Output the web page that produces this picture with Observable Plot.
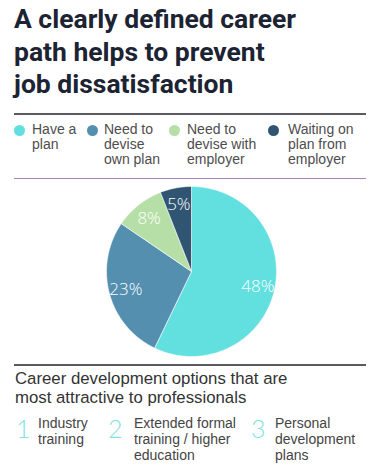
<!DOCTYPE html>
<html><head><meta charset="utf-8">
<script src="https://cdn.jsdelivr.net/npm/d3@7"></script>
<script src="https://cdn.jsdelivr.net/npm/@observablehq/plot@0.6"></script>
<style>
body{margin:0;background:#fff;width:377px;height:470px;position:relative;overflow:hidden;font-family:"Liberation Sans",Arial,sans-serif;}
.abs{position:absolute;}
#title{left:14px;top:4px;font-family:Roboto,sans-serif;font-weight:700;font-size:25px;line-height:32.5px;color:#1c2333;white-space:nowrap;transform-origin:0 0;}
.rule{position:absolute;left:14px;width:352px;}
.leg{position:absolute;top:122px;font-size:14px;line-height:15px;color:#4d4d4d;}
.dot{position:absolute;width:11px;height:11px;border-radius:50%;top:125px;}
#sub{left:15px;top:370px;font-size:16.8px;line-height:18.5px;color:#333;white-space:nowrap;}
.num{position:absolute;top:413px;font-family:Lato,Roboto,sans-serif;font-weight:300;font-size:25px;color:#7fe3e2;}
.opt{position:absolute;top:415px;font-size:14px;line-height:16px;color:#444;white-space:nowrap;}
#chart{position:absolute;left:0;top:180px;}
</style></head>
<body>
<div id="title" class="abs"></div>
<div class="rule" style="top:113px;height:2px;background:#5b5b5f"></div>
<div id="legend"></div>
<div class="rule" style="top:178px;height:1px;background:#a884b8"></div>
<div id="chart"></div>
<div class="rule" style="top:364px;height:2px;background:#5b5b5f"></div>
<div id="sub" class="abs"></div>
<div id="opts"></div>
<script>
const titleLines = ["A clearly defined career", "path helps to prevent", "job dissatisfaction"];
const categories = ["Have a plan", "Need to devise own plan", "Need to devise with employer", "Waiting on plan from employer"];
const legendLines = [["Have a","plan"],["Need to","devise","own plan"],["Need to","devise with","employer"],["Waiting on","plan from","employer"]];
const values = [48, 23, 8, 5];
const colors = ["#62e0df", "#548fb0", "#b6dfa7", "#2f5572"];
const subtitleLines = ["Career development options that are", "most attractive to professionals"];
const optionNumbers = ["1", "2", "3"];
const optionLines = [["Industry","training"],["Extended formal","training / higher","education"],["Personal","development","plans"]];

document.getElementById("title").innerHTML = titleLines.join("<br>");
document.getElementById("sub").innerHTML = subtitleLines.join("<br>");

const legX = [[14,32],[87,104],[169,187],[268,288]];
const legend = document.getElementById("legend");
categories.forEach((c,i)=>{
  const d = document.createElement("div"); d.className="dot"; d.style.left=legX[i][0]+"px"; d.style.background=colors[i]; legend.appendChild(d);
  const t = document.createElement("div"); t.className="leg"; t.style.left=legX[i][1]+"px"; t.innerHTML=legendLines[i].join("<br>"); legend.appendChild(t);
});

const optX = [[16,38],[108,134],[251,275]];
const opts = document.getElementById("opts");
optionNumbers.forEach((n,i)=>{
  const a = document.createElement("div"); a.className="num"; a.style.left=optX[i][0]+"px"; a.textContent=n; opts.appendChild(a);
  const b = document.createElement("div"); b.className="opt"; b.style.left=optX[i][1]+"px"; b.innerHTML=optionLines[i].join("<br>"); opts.appendChild(b);
});

const rows = categories.map((c,i)=>({key:c, value:values[i]}));
const arcs = d3.pie().sort(null).value(d=>d.value)(rows);
const pts = [];
arcs.forEach(a=>{
  const n = Math.max(2, Math.ceil((a.endAngle-a.startAngle)/0.01));
  pts.push({key:a.data.key, x:0, y:0});
  for(let i=0;i<=n;i++){const t=a.startAngle+(a.endAngle-a.startAngle)*i/n; pts.push({key:a.data.key, x:Math.sin(t), y:Math.cos(t)});}
  pts.push({key:a.data.key, x:0, y:0});
});
const labelR = 0.8;
const labels = arcs.map(a=>{const m=(a.startAngle+a.endAngle)/2; return {x:labelR*Math.sin(m), y:labelR*Math.cos(m), text:a.data.value+"%"};});

const plot = Plot.plot({
  width:377, height:182, marginLeft:106, marginRight:101, marginTop:6, marginBottom:6,
  style:{fontFamily:"'Open Sans',sans-serif", background:"transparent"},
  x:{domain:[-1,1], axis:null}, y:{domain:[-1,1], axis:null},
  color:{domain:categories, range:colors},
  marks:[
    Plot.line(pts,{x:"x",y:"y",z:"key",fill:"key",stroke:"white",strokeWidth:0.6,curve:"linear"}),
    Plot.text(labels,{x:"x",y:"y",text:"text",fill:"white",fontSize:17,fontWeight:300})
  ]
});
document.getElementById("chart").appendChild(plot);

const ti = document.getElementById("title");
const w = ti.getBoundingClientRect().width;
ti.style.transform = "scaleX(" + (282/w) + ")";
</script>
</body></html>
